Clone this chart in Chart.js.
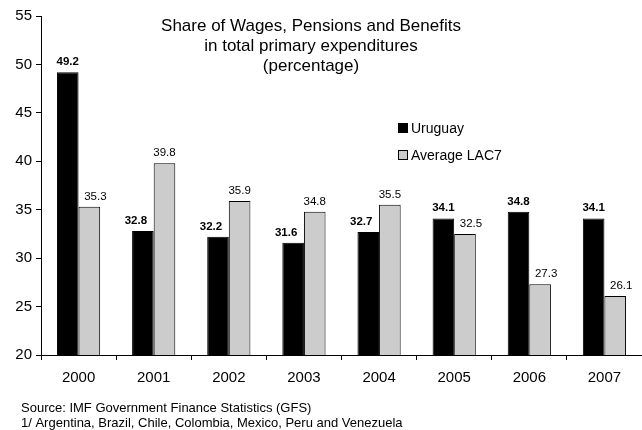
<!DOCTYPE html>
<html><head><meta charset="utf-8">
<script src="https://cdn.jsdelivr.net/npm/chart.js@4/dist/chart.umd.min.js"></script>
<style>html,body{margin:0;padding:0;background:#fff}#wrap{width:642px;height:430px;position:relative}</style>
</head><body><div id="wrap"><canvas id="c" width="642" height="430"></canvas></div>
<script>
const years = ['2000','2001','2002','2003','2004','2005','2006','2007'];
const uruguay = [49.2, 32.8, 32.2, 31.6, 32.7, 34.1, 34.8, 34.1];
const lac7 = [35.3, 39.8, 35.9, 34.8, 35.5, 32.5, 27.3, 26.1];
const yTicks = [20,25,30,35,40,45,50,55];
const titleLines = ['Share of Wages, Pensions and Benefits','in total primary expenditures','(percentage)'];
const legendLabels = ['Uruguay','Average LAC7'];
const notes = ['Source: IMF Government Finance Statistics (GFS)','1/ Argentina, Brazil, Chile, Colombia, Mexico, Peru and Venezuela'];
const FONT = '"Liberation Sans", Arial, sans-serif';

const extras = {
  id:'extras',
  afterDatasetsDraw(chart){
    const ctx = chart.ctx;
    ctx.save();
    ctx.fillStyle = '#000';
    ctx.textAlign = 'center';
    ctx.textBaseline = 'alphabetic';
    const sets = chart.data.datasets;
    sets.forEach((ds, di) => {
      const meta = chart.getDatasetMeta(di);
      ctx.font = (di === 0 ? 'bold ' : '') + '11.5px ' + FONT;
      meta.data.forEach((bar, i) => {
        const other = sets[1 - di].data[i];
        // the shorter bar's label is nudged away from its taller neighbour
        let dx = 0;
        if (ds.data[i] < other) dx = di === 0 ? -7 : 6;
        ctx.fillText(ds.data[i].toFixed(1), bar.x + dx, bar.y - 7);
      });
    });
    // title
    ctx.font = '17px ' + FONT;
    titleLines.forEach((t, i) => ctx.fillText(t, 311, 31 + i * 20));
    // legend
    ctx.textAlign = 'left';
    ctx.font = '14px ' + FONT;
    const cols = ['#000', '#cccccc'];
    legendLabels.forEach((t, i) => {
      const y = 128 + i * 27;
      ctx.fillStyle = cols[i];
      ctx.fillRect(398, y - 5, 10, 10);
      ctx.strokeStyle = '#000'; ctx.lineWidth = 1;
      ctx.strokeRect(398.5, y - 4.5, 9, 9);
      ctx.fillStyle = '#000';
      ctx.textBaseline = 'middle';
      ctx.fillText(t, 411, y + 1);
    });
    // notes
    ctx.textBaseline = 'alphabetic';
    ctx.font = '13px ' + FONT;
    notes.forEach((t, i) => ctx.fillText(t, 21, 412 + i * 15));
    ctx.restore();
  }
};

new Chart(document.getElementById('c'), {
  type:'bar',
  data:{
    labels: years,
    datasets:[
      {label:legendLabels[0], data:uruguay, backgroundColor:'#000', borderColor:'#000', borderWidth:1, categoryPercentage:0.575, barPercentage:1},
      {label:legendLabels[1], data:lac7, backgroundColor:'#cccccc', borderColor:'#000', borderWidth:1, categoryPercentage:0.575, barPercentage:1}
    ]
  },
  options:{
    responsive:false, animation:false,
    layout:{padding:{top:16, right:0, bottom:36, left:0}},
    plugins:{legend:{display:false}, tooltip:{enabled:false}, title:{display:false}},
    scales:{
      x:{
        offset:true,
        grid:{display:true, offset:true, drawOnChartArea:false, tickLength:5, color:'#000'},
        border:{display:true, color:'#000'},
        ticks:{color:'#000', font:{family:FONT, size:15}, padding:9},
        afterFit(s){ s.height = 39; }
      },
      y:{
        min:20, max:55,
        afterBuildTicks(s){ s.ticks = yTicks.map(v => ({value:v})); },
        grid:{display:true, drawOnChartArea:false, tickLength:5, color:'#000'},
        border:{display:true, color:'#000'},
        ticks:{color:'#000', font:{family:FONT, size:15}, padding:4},
        afterFit(s){ s.width = 41; }
      }
    }
  },
  plugins:[extras]
});
</script></body></html>
